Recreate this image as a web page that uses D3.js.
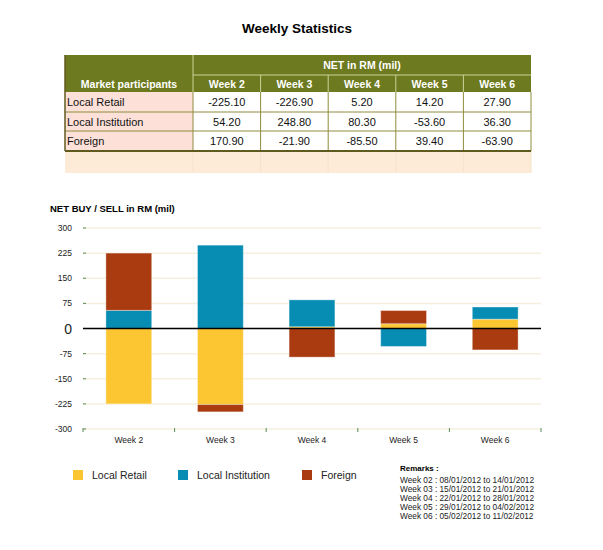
<!DOCTYPE html>
<html>
<head>
<meta charset="utf-8">
<script src="https://cdn.jsdelivr.net/npm/d3@7"></script>
<style>
  body { margin: 0; background: #fff; }
  svg { display: block; font-family: "Liberation Sans", Arial, Helvetica, sans-serif; }
</style>
</head>
<body>
<div id="chart"></div>
<script>
var weeks = ['Week 2', 'Week 3', 'Week 4', 'Week 5', 'Week 6'];
var participants = ['Local Retail', 'Local Institution', 'Foreign'];
var localRetail = [-225.10, -226.90, 5.20, 14.20, 27.90];
var localInstitution = [54.20, 248.80, 80.30, -53.60, 36.30];
var foreign = [170.90, -21.90, -85.50, 39.40, -63.90];
var yTicks = [-300, -225, -150, -75, 0, 75, 150, 225, 300];
var remarks = [
  'Week 02 : 08/01/2012 to 14/01/2012',
  'Week 03 : 15/01/2012 to 21/01/2012',
  'Week 04 : 22/01/2012 to 28/01/2012',
  'Week 05 : 29/01/2012 to 04/02/2012',
  'Week 06 : 05/02/2012 to 11/02/2012'
];
var colors = ['#fcc632', '#078db3', '#aa3b11'];

var W = 603, H = 550;
var svg = d3.select('#chart').append('svg').attr('width', W).attr('height', H);

// title
svg.append('text').attr('x', 297).attr('y', 33).attr('text-anchor', 'middle')
  .style('font-size', '13.5px').style('font-weight', 'bold').text('Weekly Statistics');

// ---- table ----
var series = [localRetail, localInstitution, foreign];
var tx0 = 65, tx1 = 531, labelW = 128;
var colW = (tx1 - tx0 - labelW) / weeks.length;
var rowY = [92, 112, 131, 151];
var olive = '#6e7a1f';
var t = svg.append('g');
t.append('rect').attr('x', tx0).attr('y', 55).attr('width', tx1 - tx0).attr('height', 37).attr('fill', olive);
t.append('line').attr('x1', tx0 + labelW).attr('x2', tx1).attr('y1', 75).attr('y2', 75).attr('stroke', '#c9d49a');
t.append('line').attr('x1', tx0 + labelW).attr('x2', tx0 + labelW).attr('y1', 55).attr('y2', 92).attr('stroke', '#c9d49a');
weeks.forEach(function(w, i){
  var cx = tx0 + labelW + i * colW;
  if(i > 0) t.append('line').attr('x1', cx).attr('x2', cx).attr('y1', 75).attr('y2', 92).attr('stroke', '#c9d49a');
  t.append('text').attr('x', cx + colW / 2).attr('y', 88).attr('text-anchor', 'middle')
    .attr('fill', '#fff').style('font-size', '10.5px').style('font-weight', 'bold').text(w);
});
t.append('text').attr('x', tx0 + labelW + (tx1 - tx0 - labelW) / 2).attr('y', 69).attr('text-anchor', 'middle')
  .attr('fill', '#fff').style('font-size', '10.5px').style('font-weight', 'bold').text('NET in RM (mil)');
t.append('text').attr('x', tx0 + labelW / 2).attr('y', 88).attr('text-anchor', 'middle')
  .attr('fill', '#fff').style('font-size', '10.5px').style('font-weight', 'bold').text('Market participants');

participants.forEach(function(p, r){
  var y0 = rowY[r], h = rowY[r + 1] - rowY[r];
  t.append('rect').attr('x', tx0).attr('y', y0).attr('width', labelW).attr('height', h).attr('fill', '#fde1d8');
  t.append('rect').attr('x', tx0 + labelW).attr('y', y0).attr('width', tx1 - tx0 - labelW).attr('height', h).attr('fill', '#fff');
  t.append('text').attr('x', tx0 + 2).attr('y', y0 + 14).style('font-size', '11px').attr('fill', '#111').text(p);
  series[r].forEach(function(v, i){
    t.append('text').attr('x', tx0 + labelW + i * colW + colW / 2).attr('y', y0 + 14)
      .attr('text-anchor', 'middle').style('font-size', '11px').attr('fill', '#111').text(v.toFixed(2));
  });
});
// peach empty row
t.append('rect').attr('x', tx0).attr('y', 151).attr('width', tx1 - tx0).attr('height', 22).attr('fill', '#fdebd8');
for(var i = 0; i <= weeks.length; i++){
  var cx = tx0 + labelW + i * colW;
  t.append('line').attr('x1', cx).attr('x2', cx).attr('y1', 151).attr('y2', 173).attr('stroke', '#f6e3cc');
}
// grid lines of data rows
rowY.forEach(function(y, k){
  if(k === 0 || k === 3) return;
  t.append('line').attr('x1', tx0).attr('x2', tx1).attr('y1', y).attr('y2', y).attr('stroke', '#8e8c3c');
});
for(var i = 0; i <= weeks.length; i++){
  var cx = tx0 + labelW + i * colW;
  t.append('line').attr('x1', cx).attr('x2', cx).attr('y1', 92).attr('y2', 151).attr('stroke', '#8e8c3c');
}
t.append('line').attr('x1', tx0).attr('x2', tx0).attr('y1', 55).attr('y2', 151).attr('stroke', '#5f5a1e').attr('stroke-width', 1.5);
t.append('line').attr('x1', tx0).attr('x2', tx1).attr('y1', 151).attr('y2', 151).attr('stroke', '#5f5a1e').attr('stroke-width', 2);

// ---- chart ----
svg.append('text').attr('x', 50).attr('y', 212).style('font-size', '9.5px').style('font-weight', 'bold')
  .text('NET BUY / SELL in RM (mil)');

var x = d3.scaleBand().domain(weeks).range([83, 541]).paddingInner(0.5).paddingOuter(0.25);
var y = d3.scaleLinear().domain([-300, 300]).range([429, 228]);

var g = svg.append('g');
// grid
g.selectAll('line.grid').data(yTicks).enter().append('line')
  .attr('x1', 83).attr('x2', 541)
  .attr('y1', function(d){ return y(d); }).attr('y2', function(d){ return y(d); })
  .attr('stroke', '#f6efdf').attr('stroke-width', 1.5);
// y tick marks
g.selectAll('line.ytick').data(yTicks).enter().append('line')
  .attr('x1', 83).attr('x2', 86)
  .attr('y1', function(d){ return y(d); }).attr('y2', function(d){ return y(d); })
  .attr('stroke', '#5d8a5a').attr('stroke-width', 1);
g.selectAll('text.ylab').data(yTicks).enter().append('text')
  .attr('x', 72).attr('y', function(d){ return y(d) + (d === 0 ? 5 : 3); })
  .attr('text-anchor', 'end').attr('fill', '#222')
  .style('font-size', function(d){ return d === 0 ? '14px' : '8.5px'; })
  .text(function(d){ return d; });

// stacked bars
var rows = weeks.map(function(w, i){
  return { week: w, 'Local Retail': localRetail[i], 'Local Institution': localInstitution[i], 'Foreign': foreign[i] };
});
var stack = d3.stack().keys(participants).offset(d3.stackOffsetDiverging)(rows);
g.selectAll('g.layer').data(stack).enter().append('g')
  .attr('fill', function(d, i){ return colors[i]; })
  .selectAll('rect').data(function(d){ return d; }).enter().append('rect')
  .attr('x', function(d){ return x(d.data.week); })
  .attr('width', x.bandwidth())
  .attr('y', function(d){ return y(Math.max(d[0], d[1])); })
  .attr('height', function(d){ return Math.abs(y(d[0]) - y(d[1])); })
  .attr('stroke', 'rgba(255,255,255,0.35)').attr('stroke-width', 1);

// x axis ticks at band boundaries
var bounds = d3.range(weeks.length + 1).map(function(i){ return x.range()[0] + i * x.step(); });
g.selectAll('line.xtick').data(bounds).enter().append('line')
  .attr('x1', function(d){ return d; }).attr('x2', function(d){ return d; })
  .attr('y1', 428).attr('y2', 432).attr('stroke', '#5d8a5a').attr('stroke-width', 1);
g.selectAll('text.xlab').data(weeks).enter().append('text')
  .attr('x', function(d){ return x(d) + x.bandwidth() / 2; }).attr('y', 443)
  .attr('text-anchor', 'middle').style('font-size', '8.5px').attr('fill', '#222')
  .text(function(d){ return d; });

// zero line
g.append('line').attr('x1', 83).attr('x2', 541).attr('y1', y(0)).attr('y2', y(0))
  .attr('stroke', '#000').attr('stroke-width', 1.5);

// legend
var legX = [73, 178, 302];
participants.forEach(function(p, i){
  svg.append('rect').attr('x', legX[i]).attr('y', 470).attr('width', 10).attr('height', 10).attr('fill', colors[i]);
  svg.append('text').attr('x', legX[i] + 19).attr('y', 479).style('font-size', '10.5px').attr('fill', '#222').text(p);
});

// remarks
svg.append('text').attr('x', 400).attr('y', 471).style('font-size', '8px').style('font-weight', 'bold').text('Remarks :');
remarks.forEach(function(r, i){
  svg.append('text').attr('x', 400).attr('y', 483 + i * 9).style('font-size', '8.3px').attr('fill', '#222').text(r);
});
</script>
</body>
</html>
